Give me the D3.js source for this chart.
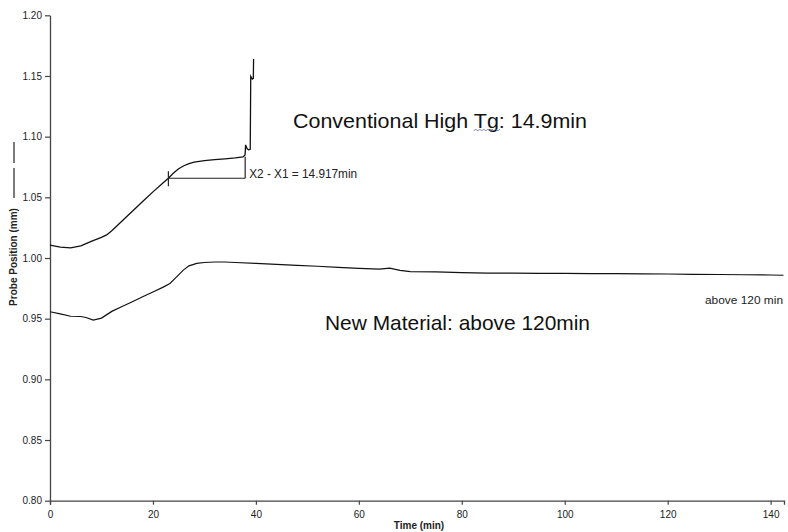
<!DOCTYPE html>
<html>
<head>
<meta charset="utf-8">
<script src="https://cdn.jsdelivr.net/npm/d3@7"></script>
<style>
  html, body { margin: 0; padding: 0; background: #fff; overflow: hidden; }
  svg { display: block; font-family: "Liberation Sans", Arial, sans-serif; }
</style>
</head>
<body>
<svg id="chart" width="788" height="532"></svg>
<script>
// ---- data ----
const convTime = [0, 2, 4, 6, 8, 10, 11, 12, 14, 16, 18, 20, 22, 23, 24, 25, 26, 27, 28, 30, 32, 34, 36, 37.5, 37.9, 38.0, 38.3, 38.6, 38.9, 39.0, 39.3, 39.5, 39.55];
const convPos  = [1.0107, 1.0090, 1.0083, 1.0100, 1.0137, 1.0170, 1.0190, 1.0225, 1.0305, 1.0385, 1.0465, 1.0545, 1.0620, 1.0658, 1.0700, 1.0735, 1.0760, 1.0778, 1.0790, 1.0802, 1.0810, 1.0817, 1.0825, 1.0833, 1.0850, 1.0932, 1.0900, 1.0891, 1.0895, 1.1496, 1.1474, 1.1480, 1.1640];

const newTime = [0, 2, 4, 6, 7, 8.4, 10, 12, 14, 16, 18, 20, 22, 23.3, 24.5, 25.9, 27, 28.5, 30, 32, 34, 36, 40, 44, 48, 52, 56, 60, 64, 66, 68, 70, 75, 80, 85, 90, 95, 100, 105, 110, 115, 120, 125, 130, 135, 140, 142.5];
const newPos  = [0.9557, 0.9540, 0.9520, 0.9518, 0.9510, 0.9488, 0.9505, 0.9560, 0.9600, 0.9640, 0.9680, 0.9720, 0.9760, 0.9790, 0.9840, 0.9900, 0.9935, 0.9955, 0.9963, 0.9967, 0.9967, 0.9963, 0.9955, 0.9948, 0.9940, 0.9932, 0.9922, 0.9915, 0.9908, 0.9916, 0.9898, 0.9888, 0.9885, 0.9880, 0.9875, 0.9876, 0.9874, 0.9873, 0.9872, 0.9872, 0.9870, 0.9868, 0.9865, 0.9864, 0.9862, 0.9860, 0.9858];

const xTicks = [0, 20, 40, 60, 80, 100, 120, 140];
const yTicks = [0.80, 0.85, 0.90, 0.95, 1.00, 1.05, 1.10, 1.15, 1.20];

const markerX1 = 23.0;
const markerX2 = 37.917;
const markerLevel = 1.0657;
const markerTop = 1.0835;

const xAxisTitle = "Time (min)";
const yAxisTitle = "Probe Position (mm)";
const convLabel = "Conventional High Tg: 14.9min";
const newLabel = "New Material: above 120min";
const diffLabel = "X2 - X1 = 14.917min";
const endLabel = "above 120 min";

// ---- drawing ----
const svg = d3.select("#chart");
const x = d3.scaleLinear().domain([0, 142.6]).range([50, 784]);
const y = d3.scaleLinear().domain([0.80, 1.20]).range([500.7, 15.3]);

const axisColor = "#444";

// x axis
const gx = svg.append("g").attr("transform", `translate(0,${y(0.80)})`)
  .call(d3.axisBottom(x).tickValues(xTicks).tickFormat(d3.format("d")).tickSize(4).tickSizeOuter(4).tickPadding(6));
// y axis
const gy = svg.append("g").attr("transform", `translate(${x(0)},0)`)
  .call(d3.axisLeft(y).tickValues(yTicks).tickFormat(d3.format(".2f")).tickSize(5).tickSizeOuter(0).tickPadding(3));

[gx, gy].forEach(g => {
  g.select(".domain").attr("stroke", axisColor).attr("stroke-width", 1.3);
  g.selectAll(".tick line").attr("stroke", axisColor).attr("stroke-width", 1.2);
  g.selectAll(".tick text").attr("fill", "#222").style("font-size", "10px").style("font-family", "Liberation Sans, Arial, sans-serif");
});

// axis titles
svg.append("text").attr("x", 419).attr("y", 529).attr("text-anchor", "middle")
  .style("font-size", "10px").style("font-weight", "bold").attr("fill", "#222").text(xAxisTitle);
svg.append("text").attr("transform", "translate(17,257) rotate(-90)").attr("text-anchor", "middle")
  .style("font-size", "10px").style("font-weight", "bold").attr("fill", "#222").text(yAxisTitle);
// legend-like line next to y title
svg.append("line").attr("x1", 14).attr("x2", 14).attr("y1", 168).attr("y2", 198).attr("stroke", "#333").attr("stroke-width", 1.3);
svg.append("line").attr("x1", 14).attr("x2", 14).attr("y1", 142).attr("y2", 163).attr("stroke", "#333").attr("stroke-width", 1.3);

// lines
const line = d3.line().x(d => x(d[0])).y(d => y(d[1]));
svg.append("path").datum(convTime.map((t, i) => [t, convPos[i]]))
  .attr("d", line).attr("fill", "none").attr("stroke", "#111").attr("stroke-width", 1.3);
svg.append("path").datum(newTime.map((t, i) => [t, newPos[i]]))
  .attr("d", line).attr("fill", "none").attr("stroke", "#111").attr("stroke-width", 1.2);

// X1/X2 marker
const mk = svg.append("g").attr("stroke", "#222").attr("stroke-width", 1.2).attr("fill", "none");
mk.append("line").attr("x1", x(markerX1)).attr("x2", x(markerX1)).attr("y1", y(markerLevel) - 7).attr("y2", y(markerLevel) + 8);
mk.append("line").attr("x1", x(markerX1)).attr("x2", x(markerX2)).attr("y1", y(markerLevel)).attr("y2", y(markerLevel));
mk.append("line").attr("x1", x(markerX2)).attr("x2", x(markerX2)).attr("y1", y(markerLevel)).attr("y2", y(markerTop));
svg.append("text").attr("x", x(markerX2) + 4).attr("y", y(markerLevel) - 0.5)
  .attr("textLength", 108).attr("lengthAdjust", "spacingAndGlyphs")
  .style("font-size", "12.5px").attr("fill", "#222").text(diffLabel);

// annotations
const conv = svg.append("text").attr("x", 293).attr("y", 128)
  .attr("textLength", 294).attr("lengthAdjust", "spacingAndGlyphs")
  .style("font-size", "21px").attr("fill", "#111").text(convLabel);
svg.append("text").attr("x", 325).attr("y", 330)
  .attr("textLength", 265).attr("lengthAdjust", "spacingAndGlyphs")
  .style("font-size", "21px").attr("fill", "#111").text(newLabel);
svg.append("text").attr("x", 705).attr("y", 304)
  .attr("textLength", 78).attr("lengthAdjust", "spacingAndGlyphs")
  .style("font-size", "11.5px").attr("fill", "#222").text(endLabel);

// spell-check squiggle under "Tg"
const node = conv.node();
const iT = convLabel.indexOf("Tg");
const sx = node.getStartPositionOfChar(iT).x;
const ex = node.getEndPositionOfChar(iT + 1).x;
let p = `M${sx},131`;
for (let xx = sx, k = 0; xx < ex; xx += 2, k++) p += ` L${xx + 2},${k % 2 ? 131 : 129}`;
svg.append("path").attr("d", p).attr("fill", "none").attr("stroke", "#6a6aa0").attr("stroke-width", 0.8);
</script>
</body>
</html>
